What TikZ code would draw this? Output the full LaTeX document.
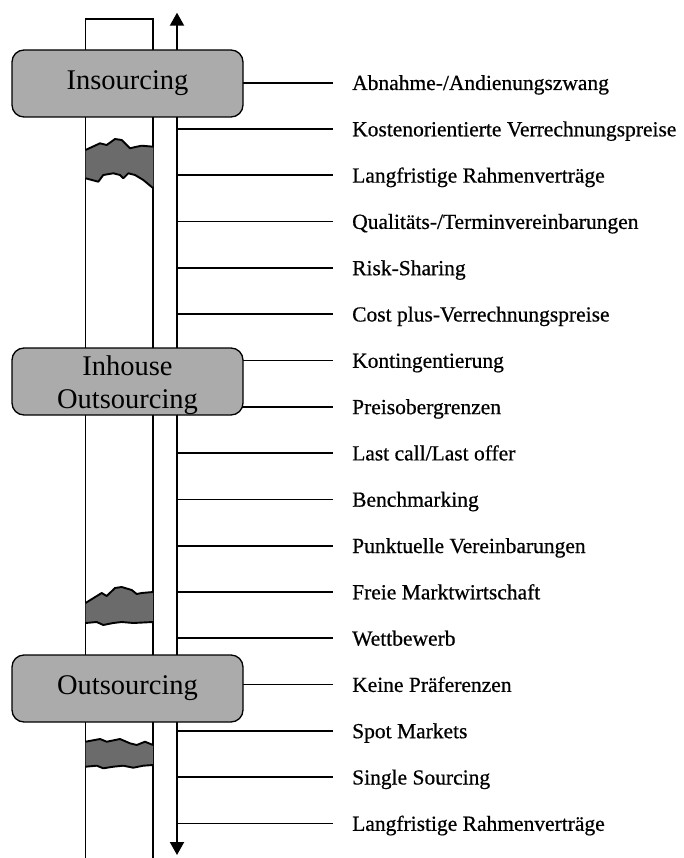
\documentclass[tikz,border=0pt]{standalone}
\usepackage{fontspec}
\setmainfont{Liberation Serif}
\newfontfamily\itemfont[FakeBold=0.6]{Liberation Serif}
\usetikzlibrary{arrows.meta}
\definecolor{boxgray}{gray}{0.67}
\definecolor{bandgray}{gray}{0.42}
\tikzset{
  stagebox/.style={draw=black, line width=1.3pt, fill=boxgray, rounded corners=12pt,
    minimum width=231pt, minimum height=67pt, inner sep=0pt, font=\fontsize{28.5}{33}\selectfont, align=center},
  itemlabel/.style={anchor=base west, inner sep=0pt, font=\itemfont\fontsize{21.5}{24}\selectfont},
  tickline/.style={line width=1.7pt},
  colline/.style={line width=1.8pt},
  bandfill/.style={fill=bandgray, draw=none},
  bandedge/.style={line width=1.9pt, line join=round},
  axisline/.style={line width=2pt, {Triangle[width=14pt,length=13pt]}-{Triangle[width=14pt,length=13pt]}}
}
\begin{document}
\begin{tikzpicture}[x=1pt,y=-1pt]
\useasboundingbox (0,0) rectangle (684,858);
% column
\coordinate (cTL) at (85.5,19);
\coordinate (cTR) at (153,19);
\coordinate (cBL) at (85.5,858);
\coordinate (cBR) at (153,858);
\draw[colline] (cBL) -- (cTL) -- (cTR) -- (cBR);
% bands
\fill[bandfill] (85.5,150) -- (100,143.3) -- (106.7,145) -- (115,139) -- (121.7,140) -- (130,148.3) -- (136.7,146.7) -- (141.7,145.7) -- (153.3,146.7)
  -- (153.3,188.3) -- (143.3,180) -- (135,175) -- (128.3,173.3) -- (123.3,178.3) -- (120,175) -- (113.3,173.3) -- (103.3,175) -- (98.3,181.7) -- (85.5,178.3) -- cycle;
\draw[bandedge] (85.5,150) -- (100,143.3) -- (106.7,145) -- (115,139) -- (121.7,140) -- (130,148.3) -- (136.7,146.7) -- (141.7,145.7) -- (153.3,146.7);
\draw[bandedge] (153.3,188.3) -- (143.3,180) -- (135,175) -- (128.3,173.3) -- (123.3,178.3) -- (120,175) -- (113.3,173.3) -- (103.3,175) -- (98.3,181.7) -- (85.5,178.3);
\fill[bandfill] (85.5,603) -- (101.7,593) -- (106.7,596) -- (115,588) -- (121.7,587) -- (131.7,590) -- (136.7,594) -- (141.7,593) -- (153,592)
  -- (153,622) -- (133.3,623) -- (121.7,622) -- (113.3,623) -- (103.3,625) -- (96.7,622) -- (85.5,623) -- cycle;
\draw[bandedge] (85.5,603) -- (101.7,593) -- (106.7,596) -- (115,588) -- (121.7,587) -- (131.7,590) -- (136.7,594) -- (141.7,593) -- (153,592);
\draw[bandedge] (153,622) -- (133.3,623) -- (121.7,622) -- (113.3,623) -- (103.3,625) -- (96.7,622) -- (85.5,623);
\fill[bandfill] (85.5,741.7) -- (100,739) -- (106.7,741.7) -- (120,739) -- (130,743.3) -- (136.7,745) -- (145,741.7) -- (153,745)
  -- (153,765) -- (143.3,765.7) -- (133.3,767.7) -- (123.3,765.7) -- (113.3,766.7) -- (103.3,768.3) -- (96.7,765.7) -- (85.5,766.7) -- cycle;
\draw[bandedge] (85.5,741.7) -- (100,739) -- (106.7,741.7) -- (120,739) -- (130,743.3) -- (136.7,745) -- (145,741.7) -- (153,745);
\draw[bandedge] (153,765) -- (143.3,765.7) -- (133.3,767.7) -- (123.3,765.7) -- (113.3,766.7) -- (103.3,768.3) -- (96.7,765.7) -- (85.5,766.7);
% axis
\coordinate (axTop) at (177,12.7);
\coordinate (axBot) at (177,855);
\draw[axisline] (axBot) -- (axTop);
% items
\foreach \i/\t in {0/{Abnahme-/Andienungszwang},1/{Kostenorientierte Verrechnungspreise},2/{Langfristige Rahmenverträge},3/{Qualitäts-/Terminvereinbarungen},4/{Risk-Sharing},5/{Cost plus-Verrechnungspreise},6/{Kontingentierung},7/{Preisobergrenzen},8/{Last call/Last offer},9/{Benchmarking},10/{Punktuelle Vereinbarungen},11/{Freie Marktwirtschaft},12/{Wettbewerb},13/{Keine Präferenzen},14/{Spot Markets},15/{Single Sourcing},16/{Langfristige Rahmenverträge}}{
  \pgfmathsetmacro{\yy}{82.7+46.3*\i}
  \coordinate (a\i) at (177,\yy);
  \coordinate (e\i) at (333,\yy);
  \node[itemlabel] (l\i) at (352,\yy+7.3) {\t};
  \draw[tickline] (a\i) -- (e\i);
}
% stage boxes
\node[stagebox] (ins) at (127.5,83.5) {Insourcing};
\node[stagebox] (inh) at (127.5,381.5) {};
\node[font=\fontsize{28.5}{33}\selectfont, inner sep=0pt, align=center] (inhT) at (127.5,385) {Inhouse\\Outsourcing};
\node[stagebox] (outs) at (127.5,688.5) {Outsourcing};
\end{tikzpicture}
\end{document}
